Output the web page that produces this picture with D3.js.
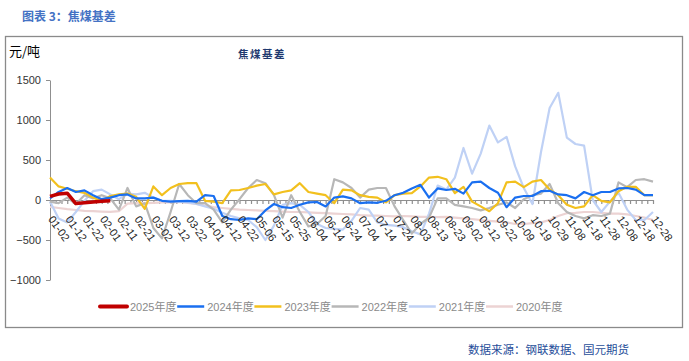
<!DOCTYPE html>
<html>
<head>
<meta charset="utf-8">
<script src="https://cdn.jsdelivr.net/npm/d3@7"></script>
<style>
  html, body { margin: 0; padding: 0; background: #fff; }
  svg { display: block; font-family: "Liberation Sans", Arial, "Noto Sans CJK SC", sans-serif; }
</style>
</head>
<body>
<svg id="chart" width="689" height="361"></svg>
<script>
// ---------- data ----------
const xLabels = ["01-02","01-12","01-22","02-01","02-11","02-21","03-02","03-12","03-22","04-01","04-12","04-22","05-06","05-15","05-25","06-04","06-14","06-24","07-04","07-14","07-24","08-03","08-13","08-23","09-02","09-12","09-22","10-09","10-19","10-29","11-08","11-18","11-28","12-08","12-18","12-28"];
const yTicks = [-1000, -500, 0, 500, 1000, 1500];
const seriesNames = ["2025年度","2024年度","2023年度","2022年度","2021年度","2020年度"];

const s2025 = [45,75,85,-45,-35,-25,-15,-10];
const s2024 = [20,100,150,100,120,60,10,30,60,70,
               20,20,30,-10,-20,-15,-10,-20,60,50,
               -200,-240,-250,-230,-240,-130,-50,-90,-100,-60,
               -30,-25,-80,30,45,20,-40,-30,-35,-10,
               60,90,145,190,30,145,125,140,80,220,
               230,150,90,-90,30,50,50,110,115,70,
               60,20,100,60,100,100,145,150,130,60,60];
const s2023 = [280,170,140,110,90,30,-20,50,70,80,
               40,-110,170,60,150,200,210,210,-10,-20,
               -40,120,125,150,180,200,70,100,120,210,
               100,80,60,-40,130,120,60,40,30,-30,
               60,80,85,170,280,290,260,85,165,-20,
               -80,-140,-40,220,230,160,230,250,130,60,
               -60,-100,-80,60,-10,-30,110,165,165,60,60];
const s2022 = [-20,-40,30,-50,60,20,60,20,-120,150,
               -80,-40,-350,-480,-150,200,60,-40,-40,-120,
               -280,-120,10,150,250,210,60,-220,60,-150,
               -330,-300,-200,260,220,150,30,130,150,150,
               -80,-250,-420,-300,-220,20,20,-60,-80,-100,
               -130,-100,-60,-30,-100,10,60,80,200,-40,
               -150,-200,-230,-190,-200,-170,220,160,250,260,230];
const s2021 = [-20,-230,-280,-150,-10,110,130,70,10,80,
               70,90,30,-10,-10,-20,-30,-50,-80,-110,
               -160,-200,-230,-250,-340,-500,-320,-60,-40,-60,
               -150,-300,-350,-360,-370,-260,-100,-120,-280,-310,
               -320,-340,-390,-430,-170,180,130,280,650,330,
               580,930,720,790,420,150,-50,600,1150,1340,
               780,700,680,0,-150,-20,90,-120,-250,-250,-150];
const s2020 = [-85,-100,-115,-125,-135,-140,-145,-148,-140,-45,
               -40,-40,-35,-30,-30,-25,-35,-50,-70,-90,
               -100,-110,-120,-125,-130,-135,-140,-145,-150,-150,
               -155,-160,-165,-170,-175,-180,-190,-195,-195,-200,
               -205,-200,-205,-210,-210,-215,-210,-220,-230,-240,
               -250,-260,-270,-280,-300,-300,-290,-280,-250,-200,
               -165,-160,-150,-150,-160,-170,-170,-180,-200,-220,-250];

const seriesData = [s2025, s2024, s2023, s2022, s2021, s2020];
const colors = ["#c00000", "#1a6ff0", "#f2c01e", "#b7b7b7", "#bfd1f5", "#ecd3d3"];
const widths = [3.5, 2.2, 2.2, 2.2, 2.2, 2.2];

// ---------- layout ----------
const svg = d3.select("#chart");
svg.append("rect").attr("width", 689).attr("height", 361).attr("fill", "#fff");

svg.append("text").attr("x", 22).attr("y", 21)
  .attr("font-size", 12).attr("font-weight", "bold").attr("fill", "#4472c4")
  .attr("font-family", "'Noto Sans CJK SC', sans-serif")
  .text("图表 3：焦煤基差");

svg.append("rect").attr("x", 5.5).attr("y", 36.5).attr("width", 677).attr("height", 291)
  .attr("fill", "none").attr("stroke", "#8a8a8a").attr("stroke-width", 1.3);

svg.append("text").attr("x", 9).attr("y", 56)
  .attr("font-size", 13).attr("fill", "#000")
  .attr("font-family", "'Noto Sans CJK SC', sans-serif")
  .text("元/吨");

svg.append("text").attr("x", 262).attr("y", 58).attr("text-anchor", "middle")
  .attr("font-size", 10.5).attr("font-weight", "bold").attr("fill", "#1f3a70")
  .attr("letter-spacing", 1.5)
  .attr("font-family", "'Noto Sans CJK SC', sans-serif")
  .text("焦煤基差");

const x = d3.scaleLinear().domain([0, 70]).range([50, 653]);
const y = d3.scaleLinear().domain([-1000, 1500]).range([280, 80]);

// y axis
const gy = svg.append("g").attr("transform", "translate(50,0)")
  .call(d3.axisLeft(y).tickValues(yTicks).tickFormat(d3.format("d"))
    .tickSize(4).tickSizeOuter(0).tickPadding(5));
gy.selectAll("path, line").attr("stroke", "#8f8f8f");
gy.selectAll("text").attr("font-size", 11).attr("fill", "#333")
  .attr("font-family", "'Liberation Sans', Arial, sans-serif");

// x axis (zero line with minor ticks)
const minorTicks = d3.range(106).map(i => i * 2 / 3);
const gx = svg.append("g").attr("transform", `translate(0,${y(0)})`)
  .call(d3.axisBottom(x).tickValues(minorTicks).tickSize(4).tickSizeOuter(0).tickFormat(""));
gx.selectAll("path, line").attr("stroke", "#8f8f8f").attr("stroke-width", 1.2);

// lines (2020 at the bottom, 2025 on top)
const line = d3.line().x((d, i) => x(i)).y(d => y(d));
for (let s = seriesData.length - 1; s >= 0; s--) {
  svg.append("path").datum(seriesData[s])
    .attr("fill", "none").attr("stroke", colors[s])
    .attr("stroke-width", widths[s]).attr("stroke-linejoin", "round")
    .attr("d", line);
}

// x labels
const gl = svg.append("g");
xLabels.forEach((lab, i) => {
  const px = x(i * 2), py = y(0) + 17;
  gl.append("text")
    .attr("transform", `translate(${px + 1},${py}) rotate(55)`)
    .attr("font-size", 11).attr("fill", "#222").attr("dy", "0.35em")
    .attr("font-family", "'Liberation Sans', Arial, sans-serif")
    .text(lab);
});

// legend
const lg = svg.append("g");
seriesNames.forEach((name, i) => {
  const lx = 100 + i * 77.2, ly = 306.5;
  lg.append("line").attr("x1", lx).attr("x2", lx + 27).attr("y1", ly).attr("y2", ly)
    .attr("stroke", colors[i]).attr("stroke-width", i === 0 ? 4 : 2.5)
    .attr("stroke-linecap", i === 0 ? "round" : "butt");
  lg.append("text").attr("x", lx + 30).attr("y", ly + 4)
    .attr("font-size", 11).attr("fill", "#8a8a8a")
    .text(name);
});

// source
svg.append("text").attr("x", 629).attr("y", 354).attr("text-anchor", "end")
  .attr("font-size", 11.5).attr("fill", "#1f4e9a")
  .attr("font-family", "'Noto Sans CJK SC', sans-serif")
  .text("数据来源：钢联数据、国元期货");
</script>
</body>
</html>
